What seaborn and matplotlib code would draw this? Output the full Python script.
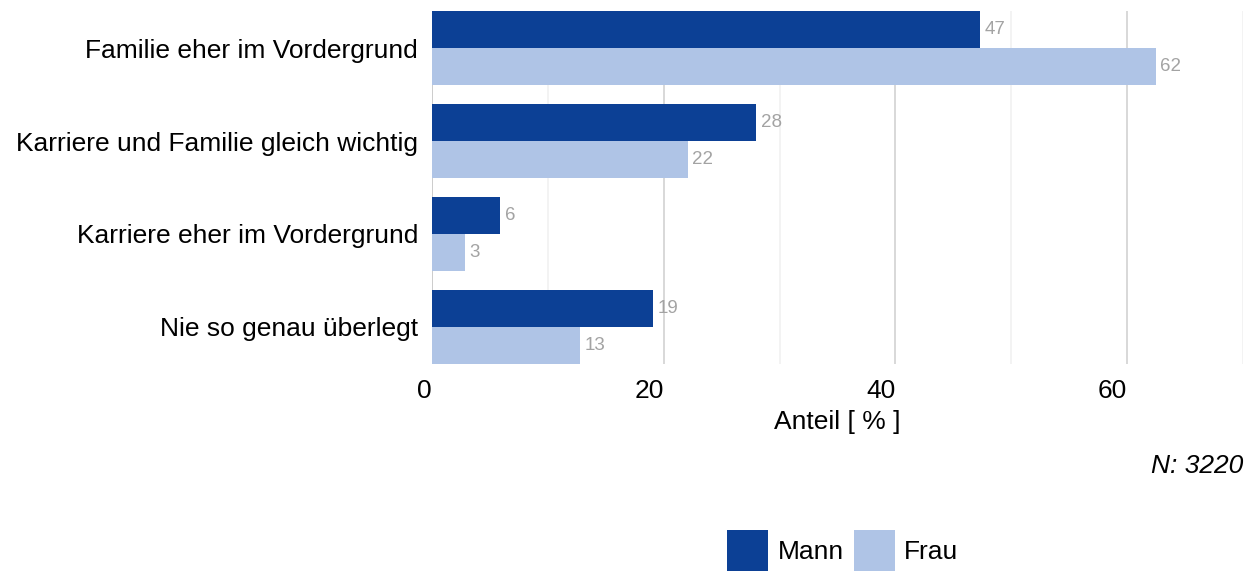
import matplotlib
matplotlib.use("Agg")
import matplotlib.pyplot as plt
import seaborn as sns
import pandas as pd
from matplotlib.patches import Patch
from matplotlib.ticker import MultipleLocator

categories = ["Familie eher im Vordergrund", "Karriere und Familie gleich wichtig",
              "Karriere eher im Vordergrund", "Nie so genau überlegt"]
series = ["Mann", "Frau"]
mann = [47.3, 28.0, 5.9, 19.1]
frau = [62.5, 22.1, 2.85, 12.8]
mann_labels = ["47", "28", "6", "19"]
frau_labels = ["62", "22", "3", "13"]
colors = ["#0c4095", "#afc4e6"]

df = pd.DataFrame({
    "Kategorie": categories * 2,
    "Geschlecht": ["Mann"] * 4 + ["Frau"] * 4,
    "Anteil": mann + frau,
})

sns.set_style("white")
plt.rcParams["font.family"] = ["Liberation Sans", "DejaVu Sans"]
plt.rcParams["text.color"] = "black"

FS = 19

fig = plt.figure(figsize=(12.51, 5.71), dpi=100)
ax = fig.add_axes([432 / 1251, 1 - 364 / 571, (1243 - 432) / 1251, (364 - 11) / 571])

sns.barplot(data=df, x="Anteil", y="Kategorie", hue="Geschlecht", order=categories,
            hue_order=series, palette=colors, orient="h", width=0.8, dodge=True,
            saturation=1, ax=ax, legend=False, zorder=3, linewidth=0, edgecolor="none")

ax.set_xlim(0, 70)
ax.set_ylim(3.4, -0.4)
ax.xaxis.set_major_locator(MultipleLocator(20))
ax.xaxis.set_minor_locator(MultipleLocator(10))
ax.grid(True, which="major", axis="x", color="#d6d6d6", linewidth=1.3, zorder=0)
ax.grid(True, which="minor", axis="x", color="#f2f2f2", linewidth=1.3, zorder=0)
ax.grid(False, axis="y")
for s in ax.spines.values():
    s.set_visible(False)
ax.axvline(0, color="#cccccc", linewidth=1.3, zorder=2)

ax.tick_params(axis="both", which="both", length=0, labelsize=FS, colors="black")
ax.tick_params(axis="y", pad=10)
ax.tick_params(axis="x", pad=11)
for lab in ax.get_xticklabels():
    lab.set_horizontalalignment("right")
ax.set_ylabel("")
ax.set_xlabel("Anteil [ % ]", fontsize=FS, labelpad=5, color="black")

for cont, labs in zip(ax.containers, [mann_labels, frau_labels]):
    ax.bar_label(cont, labels=labs, padding=3, color="#a3a3a3", fontsize=13.5)

fig.text(1243 / 1251, 1 - 466 / 571, "N: 3220", ha="right", va="center",
         fontsize=FS, style="italic", color="black")

handles = [Patch(facecolor=c, edgecolor="none") for c in colors]
fig.legend(handles, series, loc="lower center", bbox_to_anchor=(843 / 1251, 0.0),
           ncol=2, frameon=False, fontsize=FS, handlelength=1.55, handleheight=2.0,
           handletextpad=0.35, columnspacing=0.4, borderaxespad=0.0, borderpad=0.0,
           labelcolor="black")

fig.savefig("out.png", dpi=100)
